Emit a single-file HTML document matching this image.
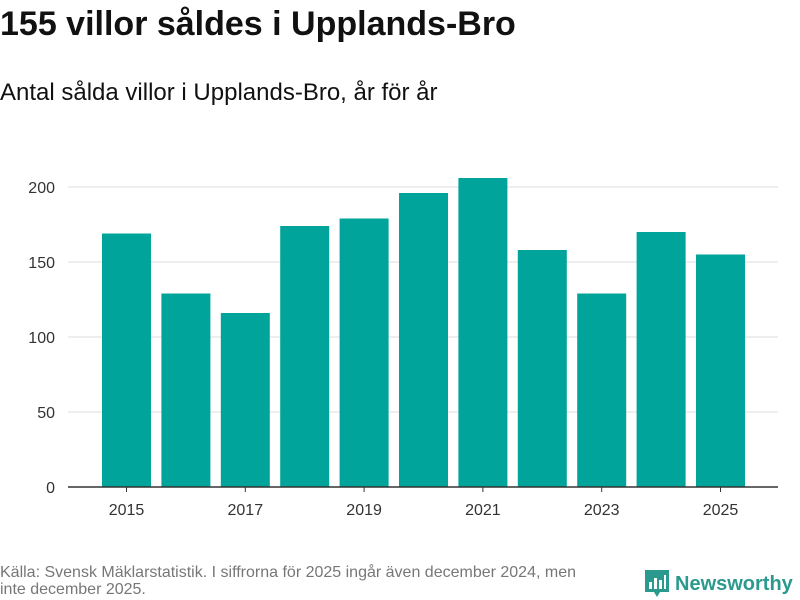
<!DOCTYPE html>
<html><head><meta charset="utf-8"><style>
body{margin:0;background:#fff;font-family:"Liberation Sans","DejaVu Sans",sans-serif;}
#wrap{position:relative;width:800px;height:600px;overflow:hidden;}
h1{position:absolute;left:0;top:5px;margin:0;font-size:34px;font-weight:bold;color:#111;}
h2{position:absolute;left:0;top:79px;margin:0;font-size:24px;font-weight:normal;color:#111;}
#src{position:absolute;left:0;top:564px;width:590px;font-size:16px;color:#777;line-height:17px;}
#logo{position:absolute;left:645px;top:570px;display:flex;align-items:center;}
#logo span{color:#2a9a8e;font-weight:bold;font-size:20px;margin-left:6px;}
</style></head><body>
<div id="wrap">
<h1>155 villor såldes i Upplands-Bro</h1>
<h2>Antal sålda villor i Upplands-Bro, år för år</h2>
<svg id="chart" width="800" height="560" style="position:absolute;left:0;top:0"></svg>
<div id="src">Källa: Svensk Mäklarstatistik. I siffrorna för 2025 ingår även december 2024, men inte december 2025.</div>
<div id="logo">
<svg width="24" height="28" viewBox="0 0 24 28"><path d="M0 0H24V22H15L12 27L9 22H0Z" fill="#2a9a8e"/><rect x="4" y="12" width="3" height="7" fill="#fff"/><rect x="9" y="8" width="3" height="11" fill="#fff"/><rect x="14" y="10" width="3" height="9" fill="#fff"/><rect x="19" y="5" width="2" height="14" fill="#fff"/></svg>
<span>Newsworthy</span></div>
</div>
<script>
const years=[2015,2016,2017,2018,2019,2020,2021,2022,2023,2024,2025];
const values=[169,129,116,174,179,196,206,158,129,170,155];
const yTicks=[0,50,100,150,200];
const xTickLabels=[2015,2017,2019,2021,2023,2025];
const svg=document.getElementById('chart');
const NS='http://www.w3.org/2000/svg';
const x0=68,x1=778,y0=487,pxPer=1.5;
const first=126.5, step=59.4, bw=49;
function y(v){return y0-v*pxPer;}
function xc(i){return first+step*i;}
function mk(t,a){const e=document.createElementNS(NS,t);for(const k in a)e.setAttribute(k,a[k]);svg.appendChild(e);return e;}
yTicks.forEach(v=>{
 if(v>0){const l=mk('line',{x1:x0,x2:x1,y1:y(v),y2:y(v),stroke:'#ddd','stroke-width':1});
 
 }
 const t=mk('text',{x:55,y:y(v)+6,'text-anchor':'end','font-size':16,fill:'#333','font-family':'Liberation Sans, sans-serif'});
 t.textContent=v;
 
 
});
years.forEach((yr,i)=>{
 const r=mk('rect',{x:xc(i)-bw/2,y:y(values[i]),width:bw,height:values[i]*pxPer,fill:'#00a49a'});
 
 
});
const ax=mk('line',{x1:x0,x2:x1,y1:y0,y2:y0,stroke:'#333','stroke-width':1.5});


xTickLabels.forEach(yr=>{
 const i=years.indexOf(yr);
 const tk=mk('line',{x1:xc(i),x2:xc(i),y1:y0,y2:y0+5,stroke:'#333'});
 
 
 const t=mk('text',{x:xc(i),y:515,'text-anchor':'middle','font-size':16,fill:'#333','font-family':'Liberation Sans, sans-serif'});
 t.textContent=yr;
 
 
});
</script>
</body></html>
